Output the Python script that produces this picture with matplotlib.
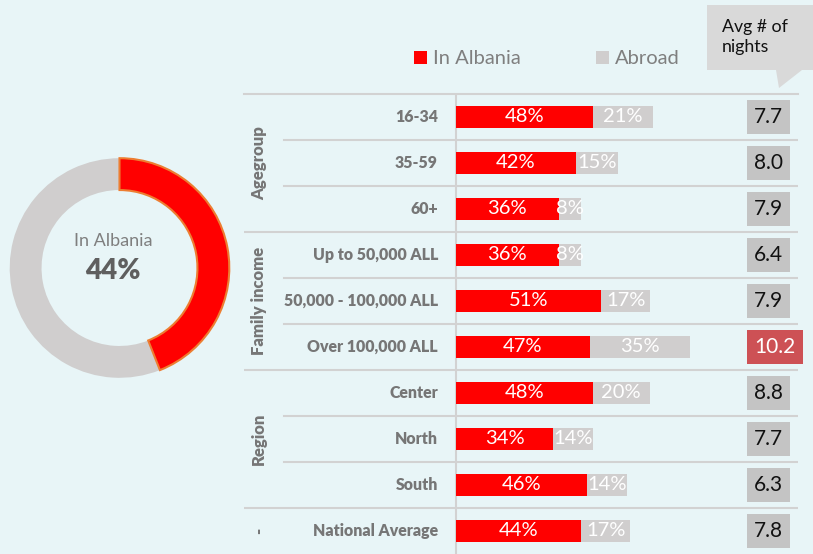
import matplotlib
matplotlib.use("Agg")
import matplotlib.pyplot as plt
from matplotlib.patches import Polygon, Rectangle

# ---- data ----
groups = ["Agegroup", "Family income", "Region", "-"]
group_sizes = [3, 3, 3, 1]
categories = ["16-34", "35-59", "60+",
              "Up to 50,000 ALL", "50,000 - 100,000 ALL", "Over 100,000 ALL",
              "Center", "North", "South",
              "National Average"]
in_albania = [48, 42, 36, 36, 51, 47, 48, 34, 46, 44]
abroad = [21, 15, 8, 8, 17, 35, 20, 14, 14, 17]
avg_nights = [7.7, 8.0, 7.9, 6.4, 7.9, 10.2, 8.8, 7.7, 6.3, 7.8]
highlight = "Over 100,000 ALL"
donut_share = 44
legend_labels = ["In Albania", "Abroad"]

# ---- style ----
BG = "#E8F5F7"
RED = "#FF0000"
GREY = "#D0CECE"
BOX = "#C4C4C4"
HI_BOX = "#CD5155"
LINE = "#D2D2D2"
TXT = "#767676"
FONT = "Lato"
plt.rcParams["font.family"] = [FONT, "DejaVu Sans"]

W, H = 813, 554
fig = plt.figure(figsize=(W / 100, H / 100), dpi=100, facecolor=BG)


def fx(px):
    return px / W


def fy(py):
    return 1 - py / H


# ---- bar panel ----
left_px, right_px, top_px, bot_px = 244, 798, 94, 554
zero_px = 456
ppu = 2.85  # pixels per percentage point
ax = fig.add_axes([fx(left_px), fy(bot_px), (right_px - left_px) / W, (bot_px - top_px) / H])
ax.set_facecolor("none")
ax.axis("off")
x0 = -(zero_px - left_px) / ppu
x1 = x0 + (right_px - left_px) / ppu
n = len(categories)
ax.set_xlim(x0, x1)
ax.set_ylim(n - 0.5, -0.5)

ys = list(range(n))
ax.barh(ys, in_albania, height=0.48, color=RED, zorder=3)
ax.barh(ys, abroad, left=in_albania, height=0.48, color=GREY, zorder=3)

for y, a, b in zip(ys, in_albania, abroad):
    ax.text(a / 2, y, f"{a}%", color="white", ha="center", va="center",
            fontsize=14.5, zorder=4)
    ax.text(a + b / 2, y, f"{b}%", color="white", ha="center", va="center",
            fontsize=14.5, zorder=4)

# category labels
for y, c in zip(ys, categories):
    ax.annotate(c, xy=(0, y), xytext=(-13, 0), textcoords="offset points",
                ha="right", va="center", fontsize=11.4, fontweight="heavy",
                color=TXT)

# avg nights boxes
box_x = (754 - zero_px) / ppu
for y, c, v in zip(ys, categories, avg_nights):
    hi = c == highlight
    ax.text(box_x, y, f"{v:.1f}", ha="left", va="center", fontsize=15,
            color="white" if hi else "#111111", zorder=4,
            bbox=dict(boxstyle="square,pad=0.35", fc=HI_BOX if hi else BOX, ec="none"))

# grid lines
ax.axvline(0, color=LINE, lw=1.5, zorder=1)
ax.plot([x0, x1], [-0.5, -0.5], color=LINE, lw=1.5, clip_on=False)
inner_x = x0 + (284 - left_px) / ppu
start = 0
for g, size in zip(groups, group_sizes):
    end = start + size
    for k in range(start + 1, end):
        ax.plot([inner_x, x1], [k - 0.5, k - 0.5], color=LINE, lw=1.5)
    if end < n:
        ax.plot([x0, x1], [end - 0.5, end - 0.5], color=LINE, lw=1.5)
    ax.text(x0 + (259 - left_px) / ppu, (start + end - 1) / 2, g, rotation=90,
            ha="center", va="center", fontsize=12, fontweight="heavy", color=TXT)
    start = end

# ---- legend ----
for px, lab, col in zip([414, 596], legend_labels, [RED, GREY]):
    fig.patches.append(Rectangle((fx(px), fy(64)), 13 / W, 13 / H, fc=col, ec="none",
                                 transform=fig.transFigure))
    fig.text(fx(px + 19), fy(58), lab, ha="left", va="center", fontsize=14.5, color="#7F7F7F")

# ---- callout ----
callout = Polygon([(fx(707), fy(5)), (fx(813), fy(5)), (fx(813), fy(70)), (fx(802), fy(70)),
                   (fx(779), fy(88)), (fx(776), fy(70)), (fx(707), fy(70))],
                  closed=True, fc="#D9D9D9", ec="none", transform=fig.transFigure)
fig.patches.append(callout)
fig.text(fx(722), fy(37), "Avg # of\nnights", ha="left", va="center", fontsize=12.8,
         color="#111111", linespacing=1.25)

# ---- donut ----
cx, cy, r = 119.5, 268, 110
dax = fig.add_axes([fx(cx - r - 2), fy(cy + r + 2), (2 * r + 4) / W, (2 * r + 4) / H])
dax.set_facecolor("none")
dax.set_aspect("equal")
dax.axis("off")
wedges, _ = dax.pie([donut_share, 100 - donut_share], colors=[RED, GREY], startangle=90,
                    counterclock=False, radius=1.0,
                    wedgeprops=dict(width=0.29, linewidth=0))
wedges[0].set_edgecolor("#ED7D31")
wedges[0].set_linewidth(1.5)
wedges[0].set_zorder(3)
dax.set_xlim(-1.02, 1.02)
dax.set_ylim(-1.02, 1.02)
dax.text(-0.06, 0.25, "In Albania", ha="center", va="center", fontsize=13, color="#7F7F7F")
dax.text(-0.06, -0.03, f"{donut_share}%", ha="center", va="center", fontsize=20,
         fontweight="heavy", color="#5F5F5F")

fig.savefig("out.png", dpi=100, facecolor=BG)
